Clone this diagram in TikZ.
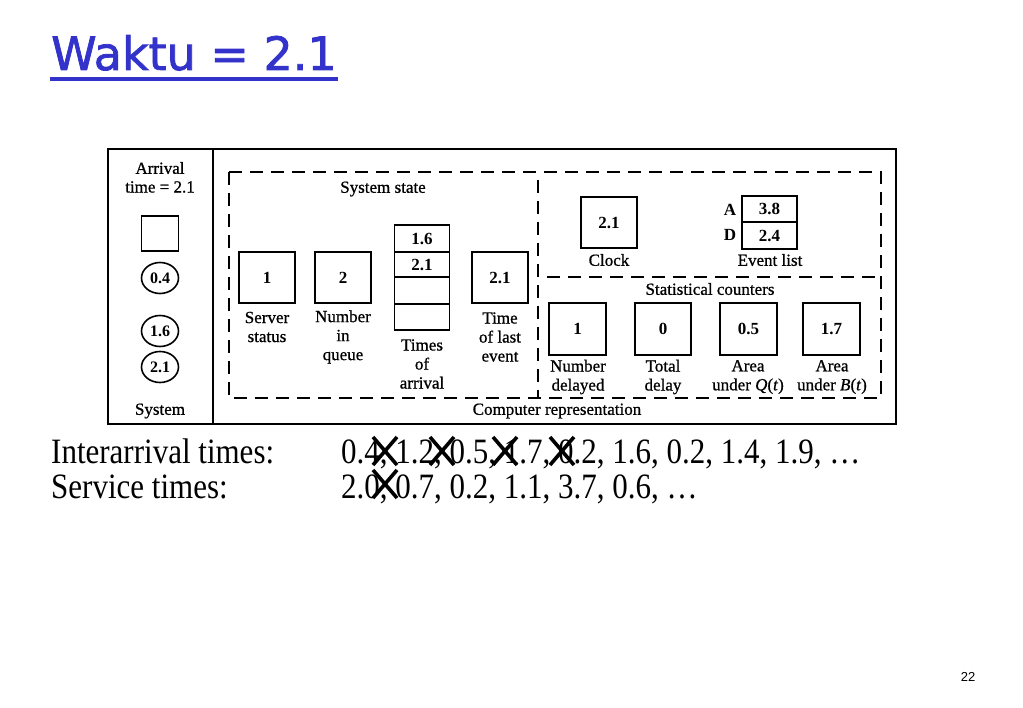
\documentclass[tikz,border=0pt]{standalone}
\usepackage{fontspec}
\setmainfont{Liberation Serif}
\newfontfamily\titlefont{DejaVu Sans}
\newfontfamily\pagefont{Liberation Sans}
\newfontfamily\diagfont{Liberation Serif}
\usetikzlibrary{shapes.geometric}
\definecolor{titleblue}{RGB}{51,51,204}
\tikzset{
  frame/.style={draw, line width=1.9pt},
  dashline/.style={draw, line width=1.7pt, dash pattern=on 13pt off 8pt},
  valbox/.style={draw, line width=1.7pt, inner sep=0pt, font=\fontsize{17}{19}\selectfont\bfseries},
  cellbox/.style={valbox, minimum width=55pt, minimum height=26pt},
  oval/.style={draw, ellipse, line width=1.6pt, minimum width=37pt, minimum height=31pt, inner sep=0pt, font=\fontsize{16}{18}\selectfont\bfseries},
  lbl/.style={align=center, inner sep=0pt, font=\fontsize{17}{19}\diagfont\addfontfeature{FakeBold=0.8}},
  cross/.style={line width=3.6pt, line cap=butt},
  bigtxt/.style={anchor=base west, inner sep=0pt, font=\fontsize{31}{33}\selectfont},
}
\begin{document}
\begin{tikzpicture}[x=1pt, y=-1pt]
\useasboundingbox (0,0) rectangle (1023,708);
% title
\node[anchor=base west, inner sep=0pt, text=titleblue, font=\fontsize{46}{50}\titlefont\addfontfeature{FakeBold=1.6}] (title) at (51,70) {Waktu = 2.1};
\draw[titleblue, line width=3.2pt] (50,79) -- (338,79);
% outer frame
\draw[frame] (108,149) rectangle (896,424);
\draw[frame] (213,149) -- (213,424);
% left panel
\node[lbl] (arr1) at (160,168) {Arrival};
\node[lbl] (arr2) at (160,187) {time = 2.1};
\node[draw, line width=1.7pt, minimum width=37pt, minimum height=35pt, inner sep=0pt] (srvsys) at (160,233.5) {};
\node[oval] (c1) at (160,278) {0.4};
\node[oval] (c2) at (160,331) {1.6};
\node[oval] (c3) at (160,367) {2.1};
\node[lbl] (sys) at (160,411) {System};
% dashed regions
\draw[dashline] (229,172) rectangle (881,398);
\draw[dashline] (538,180) -- (538,398);
\draw[dashline] (547,277) -- (881,277);
\node[lbl] (sstate) at (383,189) {System state};
\node[lbl] (comprep) at (557,411) {Computer representation};
% system state boxes
\node[valbox, minimum width=56pt, minimum height=51pt] (srv) at (267,277.5) {1};
\node[lbl] (srvl) at (267,327) {Server\\status};
\node[valbox, minimum width=56pt, minimum height=51pt] (nq) at (343,277.5) {2};
\node[lbl] (nql) at (343,337) {Number\\in\\queue};
\node[cellbox, minimum height=27pt] (t1) at (422,238.5) {1.6};
\node[cellbox, minimum height=25pt] (t2) at (422,264.5) {2.1};
\node[cellbox, minimum height=27pt] (t3) at (422,290.5) {};
\node[cellbox, minimum height=26pt] (t4) at (422,317) {};
\node[lbl] (tl) at (422,364) {Times\\of\\arrival};
\node[valbox, minimum width=56pt, minimum height=51pt] (tle) at (500,277.5) {2.1};
\node[lbl] (tlel) at (500,337) {Time\\of last\\event};
% clock and event list
\node[valbox, minimum width=56pt, minimum height=51pt] (clk) at (609,222.5) {2.1};
\node[lbl] (clkl) at (609,260) {Clock};
\node[cellbox, minimum height=26pt] (ea) at (769.5,209) {3.8};
\node[cellbox, minimum height=27pt] (ed) at (769.5,235.5) {2.4};
\node[lbl, font=\fontsize{17}{19}\selectfont\bfseries] (la) at (730,210) {A};
\node[lbl, font=\fontsize{17}{19}\selectfont\bfseries] (ld) at (730,235) {D};
\node[lbl] (evl) at (770,260) {Event list};
% statistical counters
\node[lbl] (stat) at (710,289) {Statistical counters};
\node[valbox, minimum width=57pt, minimum height=52pt] (s1) at (577.5,329) {1};
\node[valbox, minimum width=56pt, minimum height=52pt] (s2) at (663,329) {0};
\node[valbox, minimum width=57pt, minimum height=52pt] (s3) at (748.5,329) {0.5};
\node[valbox, minimum width=57pt, minimum height=52pt] (s4) at (831.5,329) {1.7};
\node[lbl] (s1l) at (578,377) {Number\\delayed};
\node[lbl] (s2l) at (663,377) {Total\\delay};
\node[lbl] (s3l) at (748,377) {Area\\under \textit{Q}(\textit{t})};
\node[lbl] (s4l) at (832,377) {Area\\under \textit{B}(\textit{t})};
% bottom text
\node[bigtxt] (ia) at (51,464) {\scalebox{1}[1.15]{Interarrival times:}};
\node[bigtxt] (iav) at (341,464) {\scalebox{1}[1.15]{0.4, 1.2, 0.5, 1.7, 0.2, 1.6, 0.2, 1.4, 1.9, \ldots}};
\node[bigtxt] (st) at (51,498) {\scalebox{1}[1.15]{Service times:}};
\node[bigtxt] (stv) at (341,498) {\scalebox{1}[1.15]{2.0, 0.7, 0.2, 1.1, 3.7, 0.6, \ldots}};
% crosses
\foreach \cx/\cy in {385/451, 442/451, 505/451, 562/451, 385/484} {
  \draw[cross] (\cx-12,\cy-14) -- (\cx+12,\cy+14);
  \draw[cross] (\cx+12,\cy-14) -- (\cx-12,\cy+14);
}
% page number
\node[anchor=base, inner sep=0pt, font=\fontsize{13}{15}\pagefont] (pg) at (968,681) {22};
\end{tikzpicture}
\end{document}
